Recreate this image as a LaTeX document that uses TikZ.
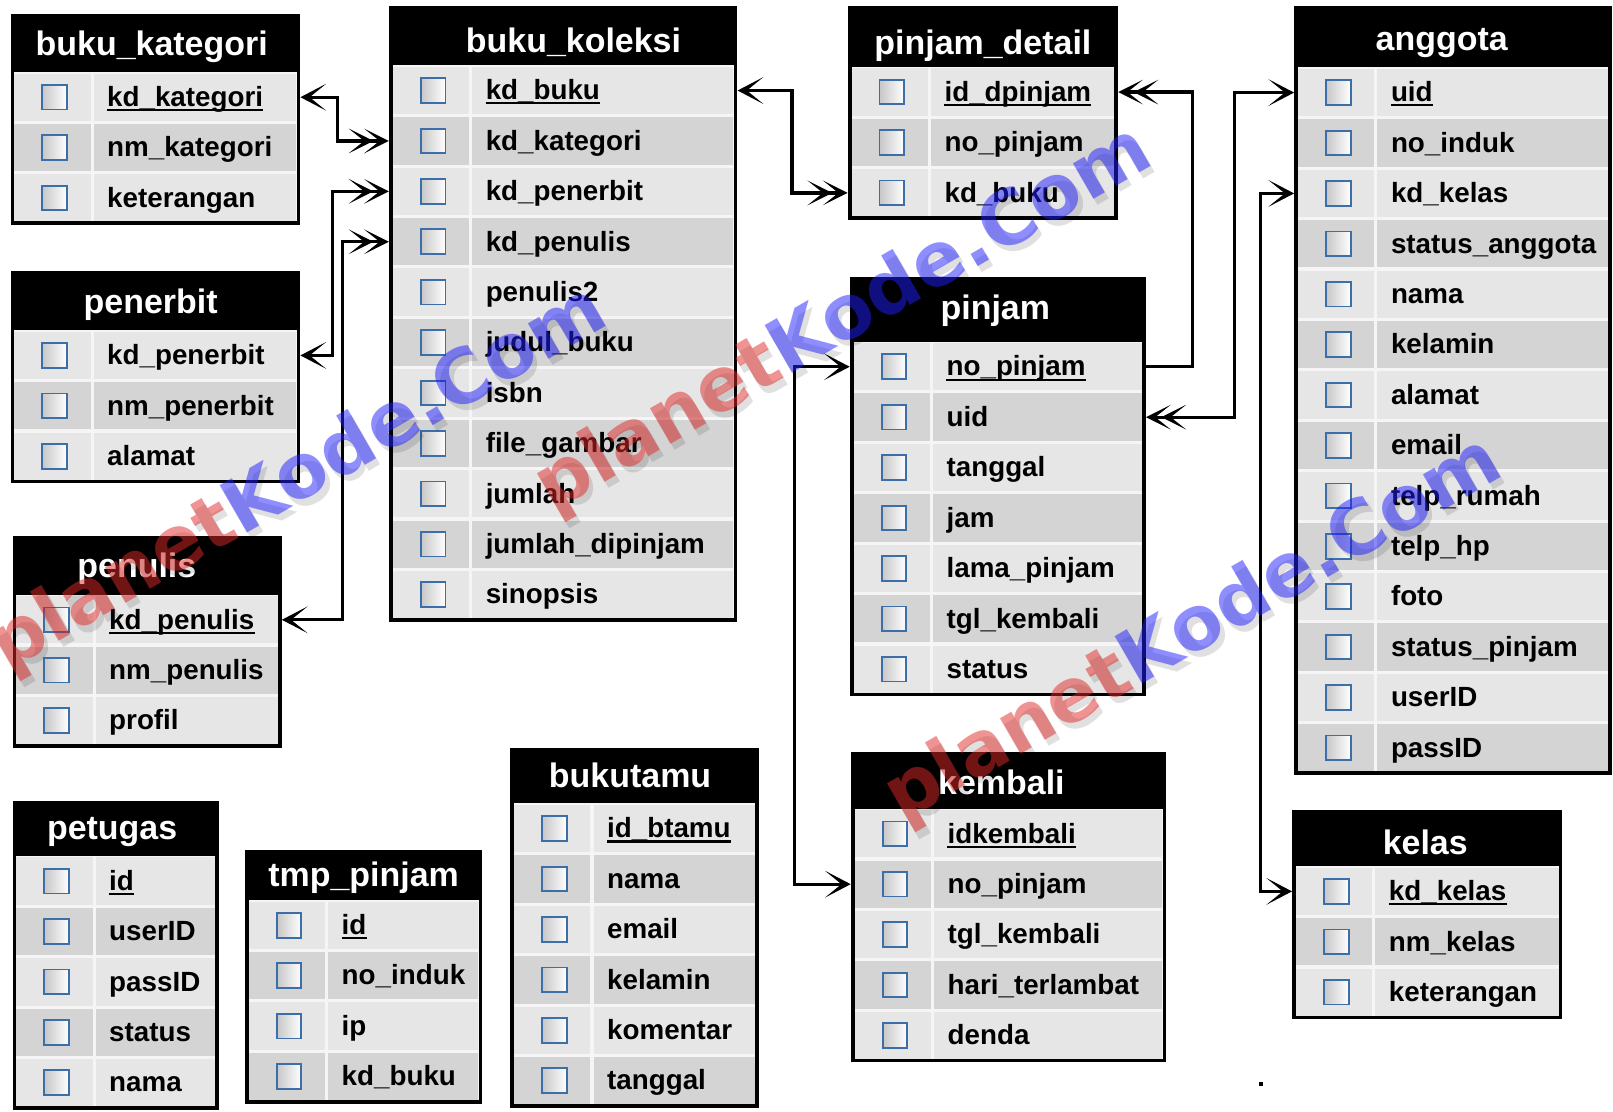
\documentclass[tikz,border=0pt]{standalone}
\usepackage{fontspec}
\setmainfont{Liberation Sans}
\newfontfamily\wmfont{DejaVu Sans}
\usetikzlibrary{arrows.meta}
\definecolor{rowA}{HTML}{E6E6E6}
\definecolor{rowB}{HTML}{D4D4D4}
\definecolor{sepc}{HTML}{F5F5F5}
\definecolor{cbblue}{HTML}{3C6EA8}
\definecolor{wmred}{HTML}{E02828}
\definecolor{wmblue}{HTML}{1E1EFF}
\tikzset{
  tabtitle/.style={anchor=base, inner sep=0pt, text=white, font=\fontsize{33}{36}\selectfont\bfseries},
  fld/.style={anchor=base west, inner sep=0pt, text=black, font=\fontsize{27}{30}\selectfont\bfseries},
  rowbox/.style={inner sep=0pt, outer sep=0pt, minimum height=49pt},
  chk/.style={draw=cbblue, line width=1.8pt, minimum size=24pt, inner sep=0pt, left color=black!22, right color=white},
  tabframe/.style={draw=black, line width=3.5pt},
  conn/.style={draw=black, line width=3.2pt, line join=miter},
  tipone/.tip={Stealth[length=25pt,width=26pt,inset=16pt]},
  tiptwo/.tip={Stealth[length=24pt,width=24pt,inset=15pt,sep=-9pt]Stealth[length=24pt,width=24pt,inset=15pt]},
  wm/.style={anchor=base west, inner sep=0pt, rotate=30, font=\wmfont\bfseries\fontsize{73}{80}\selectfont},
}
% #1 id, #2 L, #3 R, #4 T, #5 header bottom, #6 title, #7 fields, #8 title baseline y, #9 title x offset
\newcommand\dbtab[9]{%
  \fill[black] (#2,#4) rectangle (#3,#5);
  \node[tabtitle] (#1-h) at ({(#2+#3)/2+(#9)},#8) {#6};
  \foreach \f/\u [count=\i] in {#7} {%
    \pgfmathsetmacro\yA{#5+(\i-1)*49}%
    \pgfmathsetmacro\yC{\yA+24.5}%
    \pgfmathtruncatemacro\rowpar{mod(\i,2)}%
    \ifnum\rowpar=1 \def\rowcol{rowA}\else\def\rowcol{rowB}\fi
    \fill[sepc] (#2,\yA) rectangle (#3,\yA+49);
    \fill[\rowcol] (#2+2,\yA+1.5) rectangle (#2+76,\yA+47.5);
    \fill[\rowcol] (#2+79,\yA+1.5) rectangle (#3-2,\yA+47.5);
    \node[rowbox, minimum width={(#3)-(#2)}] (#1-\i) at ({(#2+#3)/2},\yC) {};
    \node[chk] (#1-\i-c) at (#2+41,\yC) {};
    \node[fld] (#1-\i-t) at (#2+92,\yC+9) {\f};
    \ifnum\u=1 \draw[line width=2pt] ([yshift=-3.5pt]#1-\i-t.base west) -- ([yshift=-3.5pt]#1-\i-t.base east);\fi
    \xdef\lastbot{\yA+49}%
  }
  \draw[tabframe] (#2,#4) rectangle (#3,\lastbot);
}
\begin{document}
\begin{tikzpicture}[x=1pt,y=-1pt]
\useasboundingbox (0,0) rectangle (1568,1080);
\fill[white] (0,0) rectangle (1568,1080);

\dbtab{bkat}{12}{290}{15}{70}{buku\_kategori}{kd\_kategori/1, nm\_kategori/0, keterangan/0}{54}{-3.5}
\dbtab{bkol}{380}{715}{8}{63.5}{buku\_koleksi}{kd\_buku/1, kd\_kategori/0, kd\_penerbit/0, kd\_penulis/0, penulis2/0, judul\_buku/0, isbn/0, file\_gambar/0, jumlah/0, jumlah\_dipinjam/0, sinopsis/0}{51}{10}
\dbtab{pdet}{826}{1085}{8}{65}{pinjam\_detail}{id\_dpinjam/1, no\_pinjam/0, kd\_buku/0}{53}{0}
\dbtab{ang}{1260}{1565}{8}{65.5}{anggota}{uid/1, no\_induk/0, kd\_kelas/0, status\_anggota/0, nama/0, kelamin/0, alamat/0, email/0, telp\_rumah/0, telp\_hp/0, foto/0, status\_pinjam/0, userID/0, passID/0}{49}{-11}
\dbtab{pen}{12}{290}{265}{321}{penerbit}{kd\_penerbit/0, nm\_penerbit/0, alamat/0}{305}{-4.5}
\dbtab{pnl}{14}{272}{523}{578}{penulis}{kd\_penulis/1, nm\_penulis/0, profil/0}{561}{-10}
\dbtab{pin}{828}{1112}{271}{332}{pinjam}{no\_pinjam/1, uid/0, tanggal/0, jam/0, lama\_pinjam/0, tgl\_kembali/0, status/0}{311}{-2.5}
\dbtab{pet}{14}{211}{780}{832}{petugas}{id/1, userID/0, passID/0, status/0, nama/0}{816}{-3.5}
\dbtab{tmp}{240}{467}{828}{875}{tmp\_pinjam}{id/1, no\_induk/0, ip/0, kd\_buku/0}{862}{0}
\dbtab{btm}{498}{736}{729}{781}{bukutamu}{id\_btamu/1, nama/0, email/0, kelamin/0, komentar/0, tanggal/0}{766}{-4.5}
\dbtab{kem}{829}{1132}{733}{786}{kembali}{idkembali/1, no\_pinjam/0, tgl\_kembali/0, hari\_terlambat/0, denda/0}{772}{-7}
\dbtab{kel}{1258}{1517}{789}{842}{kelas}{kd\_kelas/1, nm\_kelas/0, keterangan/0}{831}{-2}

\coordinate (v1) at (328,0);
\coordinate (v2) at (323,0);
\coordinate (v3) at (333,0);
\coordinate (v4) at (770,0);
\coordinate (v5) at (1159,0);
\coordinate (v6) at (1200,0);
\coordinate (v7) at (1225,0);
\coordinate (v8) at (772,0);

\draw[conn, tipone-tiptwo] ([xshift=2pt]bkat-1.east) -- (bkat-1.east -| v1) -- (bkol-2.west -| v1) -- ([xshift=-2pt]bkol-2.west);
\draw[conn, tipone-tiptwo] ([xshift=2pt]pen-1.east) -- (pen-1.east -| v2) -- (bkol-3.west -| v2) -- ([xshift=-2pt]bkol-3.west);
\draw[conn, tipone-tiptwo] ([xshift=2pt]pnl-1.east) -- (pnl-1.east -| v3) -- (bkol-4.west -| v3) -- ([xshift=-2pt]bkol-4.west);
\draw[conn, tipone-tiptwo] ([xshift=2pt]bkol-1.east) -- (bkol-1.east -| v4) -- (pdet-3.west -| v4) -- ([xshift=-2pt]pdet-3.west);
\draw[conn, -tiptwo] (pin-1.east) -- (pin-1.east -| v5) -- (pdet-1.east -| v5) -- ([xshift=2pt]pdet-1.east);
\draw[conn, tipone-tiptwo] ([xshift=-2pt]ang-1.west) -- (ang-1.west -| v6) -- (pin-2.east -| v6) -- ([xshift=2pt]pin-2.east);
\draw[conn, tipone-tipone] ([xshift=-2pt]ang-3.west) -- (ang-3.west -| v7) -- (kel-1.west -| v7) -- ([xshift=-2pt]kel-1.west);
\draw[conn, tipone-tipone] ([xshift=-2pt]pin-1.west) -- (pin-1.west -| v8) -- (kem-2.west -| v8) -- ([xshift=-2pt]kem-2.west);

\fill (1224,1052) rectangle (1228,1056);

\foreach \wx/\wy [count=\k] in {7/653, 537/498, 877/800} {
  \node[wm, text=black, text opacity=0.12] (wm\k-s) at (\wx+4,\wy+6) {planetKode.Com};
  \node[wm, text opacity=0.5] (wm\k) at (\wx,\wy) {\textcolor{wmred}{planet}\textcolor{wmblue}{Kode.Com}};
}
\end{tikzpicture}
\end{document}
